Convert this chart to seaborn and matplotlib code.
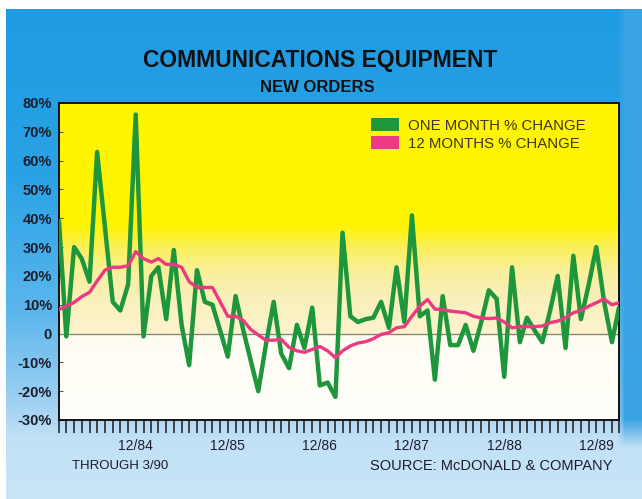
import numpy as np
import pandas as pd
import matplotlib
matplotlib.use("Agg")
import matplotlib.pyplot as plt
import matplotlib.dates as mdates
from matplotlib.colors import to_rgb
from matplotlib.patches import Patch, Rectangle
import seaborn as sns

# Monthly new orders for communications equipment, Feb 1984 through Mar 1990
months = pd.date_range("1984-02-01", "1990-03-01", freq="MS")

one_month_change = [
    39, -1, 30, 26, 18, 63, 37, 11, 8, 17,          # 2/84 - 11/84
    76, -1, 20, 23, 5, 29, 3, -11, 22, 11, 10, 1,   # 12/84 - 11/85
    -8, 13, 1, -9, -20, -4, 11, -7, -12, 3, -5, 9,  # 12/85 - 11/86
    -18, -17, -22, 35, 6, 4, 5, 5.5, 11, 2, 23, 4,  # 12/86 - 11/87
    41, 6, 8, -16, 13, -4, -4, 3, -6, 4, 15, 12,    # 12/87 - 11/88
    -15, 23, -3, 5.5, 1, -3, 8, 20, -5, 27, 5, 17,  # 12/88 - 11/89
    30, 11, -3, 9,                                  # 12/89 - 3/90
]

twelve_month_change = [
    8.3, 9.5, 10.8, 12.8, 14.3, 18.2, 22, 23, 23, 23.5,
    28.4, 26, 24.8, 26, 24, 24, 23, 18, 16, 16, 16, 11,
    6, 6, 4.5, 1.5, -0.5, -2.3, -2.3, -2, -4.8, -6, -6.5, -5.5,
    -4.5, -6, -8.4, -6, -4.3, -3.3, -2.8, -1.8, -0.3, 0.3, 2, 2.4,
    6, 9.5, 11.8, 8.5, 8.3, 7.8, 7.5, 7.2, 6, 5.4, 5.2, 5.4,
    4, 2, 2.4, 2.4, 2.4, 2.6, 3.8, 4.3, 5.5, 7.2, 8, 9.5,
    10.7, 12, 10, 10.7,
]

series_names = ["ONE MONTH % CHANGE", "12 MONTHS % CHANGE"]
y_ticks = [80, 70, 60, 50, 40, 30, 20, 10, 0, -10, -20, -30]
y_tick_labels = ["80%", "70%", "60%", "50%", "40%", "30%", "20%", "10%",
                 "0", "-10%", "-20%", "-30%"]

df = pd.DataFrame({
    "month": months,
    "one_month": one_month_change,
    "twelve_month": twelve_month_change,
})

GREEN = "#1e963c"
PINK = "#ec3a82"
INK = "#1c1c2a"

sns.set_theme(style="white")
plt.rcParams["font.family"] = ["Liberation Sans", "DejaVu Sans"]

W, H = 642, 499
fig = plt.figure(figsize=(W / 100, H / 100), dpi=100)

# ---- blue page background -------------------------------------------------
bg = fig.add_axes([0, 0, 1, 1], zorder=-10)
bg.set_axis_off()
yy = np.linspace(0, 1, 250)[:, None]           # 0 = top, 1 = bottom
xx = np.linspace(0, 1, 640)[None, :]
stops_y = [0.0, 0.35, 0.62, 0.80, 0.88, 1.0]
cols = [to_rgb(c) for c in ["#1e9be2", "#2aa2e6", "#5ab6ec", "#9ccff2", "#c2e1f6", "#c8e5f7"]]
img = np.zeros((yy.shape[0], xx.shape[1], 3))
for k in range(3):
    base = np.interp(yy[:, 0], stops_y, [c[k] for c in cols])
    img[:, :, k] = base[:, None]
# deeper blue down the right-hand edge
dark = to_rgb("#3aa3e4")
wr = np.clip((xx - 0.962) / 0.012, 0, 1) * np.clip((0.90 - yy) / 0.06, 0, 1)
for k in range(3):
    img[:, :, k] = img[:, :, k] * (1 - wr) + dark[k] * wr
bg.imshow(img, extent=[0, 1, 0, 1], aspect="auto", origin="upper")
bg.set_xlim(0, 1)
bg.set_ylim(0, 1)
bg.add_patch(Rectangle((0, 1 - 9 / H), 1, 9 / H, color="white", lw=0))
bg.add_patch(Rectangle((0, 0), 6 / W, 1, color="white", lw=0))

# ---- plot area ------------------------------------------------------------
ax = fig.add_axes([59 / W, 1 - 420 / H, 560 / W, 317 / H])
x0 = mdates.date2num(months[0])
x1 = mdates.date2num(months[-1])

# yellow fading to white below the zero line
levels = np.linspace(80, -30, 400)
ystops = [-30, -0.01, 0.01, 12, 22, 30, 38, 80]
ycols = [to_rgb(c) for c in ["#fffffb", "#fffdf2", "#fcf3cf", "#faf0bb",
                             "#f9ef9a", "#fbf058", "#fff400", "#fff600"]]
grad = np.zeros((len(levels), 2, 3))
for k in range(3):
    grad[:, :, k] = np.interp(levels, ystops, [c[k] for c in ycols])[:, None]
ax.imshow(grad, extent=[x0, x1, -30, 80], aspect="auto", origin="upper", zorder=0)

ax.axhline(0, color="#85856a", lw=1.0, zorder=1)

sns.lineplot(data=df, x="month", y="one_month", ax=ax, color=GREEN, lw=3.2,
             zorder=3, legend=False)
sns.lineplot(data=df, x="month", y="twelve_month", ax=ax, color=PINK, lw=2.4,
             zorder=4, legend=False)

ax.set_xlim(x0, x1)
ax.set_ylim(-30, 80)
ax.set_xlabel("")
ax.set_ylabel("")

for s in ax.spines.values():
    s.set_visible(True)
    s.set_color("#111111")
    s.set_linewidth(1.4)

ax.set_yticks(y_ticks)
ax.set_yticklabels(y_tick_labels, fontsize=10.5, fontweight="bold", color=INK)
ax.tick_params(axis="y", direction="in", length=3, width=0.8, color="#555555",
               pad=5, left=True, right=False)

ax.xaxis.set_major_locator(mdates.MonthLocator(bymonth=12))
ax.xaxis.set_major_formatter(mdates.DateFormatter("%m/%y"))
ax.xaxis.set_minor_locator(mdates.MonthLocator())
ax.tick_params(axis="x", which="both", direction="out", length=9, width=1.1,
               color="#1a1a1a", bottom=True, top=False)
ax.tick_params(axis="x", which="major", pad=5, labelsize=10, labelcolor=INK)

# legend
handles = [Patch(facecolor=GREEN, edgecolor="none"),
           Patch(facecolor=PINK, edgecolor="none")]
leg = ax.legend(handles, series_names, loc="upper left",
                bbox_to_anchor=(0.557, 0.952), frameon=False, fontsize=10.8,
                handlelength=1.85, handleheight=0.95, handletextpad=0.65,
                labelspacing=0.22, borderpad=0, borderaxespad=0)
for t in leg.get_texts():
    t.set_color("#3d3620")

# titles and notes
fig.text(320 / W, 1 - 60 / H, "COMMUNICATIONS EQUIPMENT", ha="center", va="center",
         fontsize=16.5, fontweight="bold", color="#111111")
fig.text(317 / W, 1 - 87 / H, "NEW ORDERS", ha="center", va="center",
         fontsize=12, fontweight="bold", color="#111111")
fig.text(72 / W, 1 - 466 / H, "THROUGH 3/90", ha="left", va="center",
         fontsize=9.5, color=INK)
fig.text(612 / W, 1 - 466 / H, "SOURCE: McDONALD & COMPANY", ha="right", va="center",
         fontsize=10.5, color=INK)

fig.savefig("out.png", dpi=100)
